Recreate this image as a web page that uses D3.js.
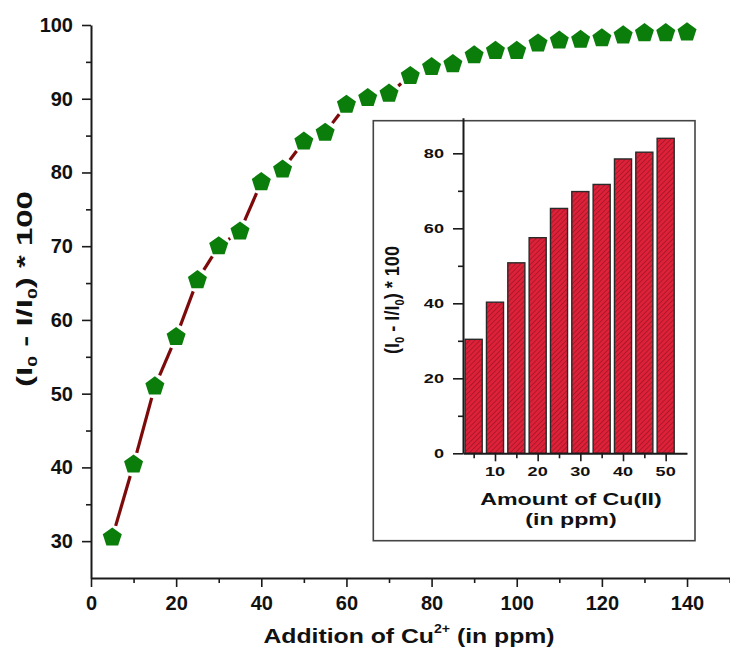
<!DOCTYPE html>
<html>
<head>
<meta charset="utf-8">
<script src="https://cdn.jsdelivr.net/npm/d3@7"></script>
<style>
  html, body { margin: 0; padding: 0; background: #fff; }
  svg { display: block; font-family: "Liberation Sans", Arial, sans-serif; font-weight: bold; }
</style>
</head>
<body>
<svg id="chart" width="730" height="652"></svg>
<script>
// Quenching efficiency vs. added Cu2+ (ppm)
const cuAdded = [5, 10, 15, 20, 25, 30, 35, 40, 45, 50, 55, 60, 65, 70,
                 75, 80, 85, 90, 95, 100, 105, 110, 115, 120, 125, 130, 135, 140];
const quench = [30.5, 40.4, 51.0, 57.7, 65.4, 70.0, 72.0, 78.7, 80.4, 84.2, 85.4, 89.2, 90.1, 90.7,
                93.1, 94.3, 94.7, 95.9, 96.5, 96.5, 97.5, 97.9, 98.0, 98.2, 98.6, 98.9, 98.9, 99.0];

// Inset: bar chart for the low-concentration range
const insetCu = [5, 10, 15, 20, 25, 30, 35, 40, 45, 50];
const insetQuench = [30.4, 40.3, 50.8, 57.5, 65.3, 69.8, 71.7, 78.5, 80.3, 84.0];

const mainXTicks = [0, 20, 40, 60, 80, 100, 120, 140];
const mainXMinor = [10, 30, 50, 70, 90, 110, 130, 150];
const mainYTicks = [30, 40, 50, 60, 70, 80, 90, 100];
const mainYMinor = [35, 45, 55, 65, 75, 85, 95];
const insetXTicks = [10, 20, 30, 40, 50];
const insetXMinor = [5, 15, 25, 35, 45];
const insetYTicks = [0, 20, 40, 60, 80];
const insetYMinor = [10, 30, 50, 70];

const svg = d3.select("#chart");

const defs = svg.append("defs");
const pat = defs.append("pattern")
  .attr("id", "hatch")
  .attr("patternUnits", "userSpaceOnUse")
  .attr("width", 3.6).attr("height", 3.6)
  .attr("patternTransform", "rotate(45)");
pat.append("rect").attr("width", 3.6).attr("height", 3.6).attr("fill", "#dc2139");
pat.append("line").attr("x1", 0).attr("y1", 0).attr("x2", 0).attr("y2", 3.6)
  .attr("stroke", "#8e1020").attr("stroke-width", 1.1);

// ---------- main plot ----------
const x = d3.scaleLinear().domain([0, 150]).range([91, 729.6]);
const y = d3.scaleLinear().domain([25, 100]).range([578, 25]);

function styleAxis(g, w) {
  g.select(".domain").attr("stroke", "#1a1a1a").attr("stroke-width", w);
  g.selectAll(".tick line").attr("stroke", "#1a1a1a").attr("stroke-width", 1.6);
}

// x axis
svg.append("g").attr("transform", `translate(0,${y(25)})`)
  .call(d3.axisBottom(x).tickValues(mainXTicks).tickSize(9).tickSizeOuter(0).tickPadding(9))
  .call(g => styleAxis(g, 2))
  .call(g => g.selectAll("text").attr("font-size", 20).attr("font-family", "Liberation Sans, Arial")
    .attr("font-weight", "bold").attr("fill", "#111"));
svg.append("g").attr("transform", `translate(0,${y(25)})`)
  .call(d3.axisBottom(x).tickValues(mainXMinor).tickSize(5).tickFormat(""))
  .call(g => g.select(".domain").remove())
  .call(g => g.selectAll(".tick line").attr("stroke", "#1a1a1a").attr("stroke-width", 1.6));

// y axis
svg.append("g").attr("transform", `translate(${x(0)},0)`)
  .call(d3.axisLeft(y).tickValues(mainYTicks).tickSize(9).tickSizeOuter(0).tickPadding(9))
  .call(g => styleAxis(g, 2))
  .call(g => g.selectAll("text").attr("font-size", 20).attr("font-family", "Liberation Sans, Arial")
    .attr("font-weight", "bold").attr("fill", "#111"));
svg.append("g").attr("transform", `translate(${x(0)},0)`)
  .call(d3.axisLeft(y).tickValues(mainYMinor).tickSize(5).tickFormat(""))
  .call(g => g.select(".domain").remove())
  .call(g => g.selectAll(".tick line").attr("stroke", "#1a1a1a").attr("stroke-width", 1.6));

// axis titles (set in a stretched face)
const yTitle = svg.append("text")
  .attr("transform", `translate(32,289) rotate(-90) scale(1.5,1)`)
  .attr("text-anchor", "middle")
  .attr("font-size", 22).attr("fill", "#111");
yTitle.append("tspan").text("(I");
yTitle.append("tspan").text("0").attr("font-size", 13).attr("dy", 5);
yTitle.append("tspan").text(" - I/I").attr("dy", -5);
yTitle.append("tspan").text("0").attr("font-size", 13).attr("dy", 5);
yTitle.append("tspan").text(") * 100").attr("dy", -5);

const xTitle = svg.append("text")
  .attr("transform", `translate(409,643) scale(1.18,1)`)
  .attr("text-anchor", "middle")
  .attr("font-size", 21).attr("fill", "#111");
xTitle.append("tspan").text("Addition of Cu");
xTitle.append("tspan").text("2+").attr("font-size", 12).attr("dy", -10);
xTitle.append("tspan").text(" (in ppm)").attr("dy", 10);

// connecting line, broken around each symbol
const gap = 12;
const pts = cuAdded.map((c, i) => ({ px: x(c), py: y(quench[i]) }));
const segs = [];
for (let i = 0; i < pts.length - 1; i++) {
  const a = pts[i], b = pts[i + 1];
  const dx = b.px - a.px, dy = b.py - a.py, len = Math.hypot(dx, dy);
  if (len > 2 * gap + 1) {
    const ux = dx / len, uy = dy / len;
    segs.push([a.px + ux * gap, a.py + uy * gap, b.px - ux * gap, b.py - uy * gap]);
  }
}
svg.append("g").selectAll("line").data(segs).join("line")
  .attr("x1", d => d[0]).attr("y1", d => d[1]).attr("x2", d => d[2]).attr("y2", d => d[3])
  .attr("stroke", "#7d0a0a").attr("stroke-width", 3.2);

// pentagon symbols
function pentagon(r) {
  const p = d3.path();
  for (let k = 0; k < 5; k++) {
    const ang = -Math.PI / 2 + k * 2 * Math.PI / 5;
    const px = r * Math.cos(ang), py = r * Math.sin(ang);
    if (k === 0) p.moveTo(px, py); else p.lineTo(px, py);
  }
  p.closePath();
  return p.toString();
}
svg.append("g").selectAll("path").data(cuAdded).join("path")
  .attr("d", pentagon(10))
  .attr("transform", (c, i) => `translate(${x(c)},${y(quench[i])})`)
  .attr("fill", "#0a7d0a");

// ---------- inset ----------
svg.append("rect")
  .attr("x", 373.3).attr("y", 120.7).attr("width", 321.7).attr("height", 420)
  .attr("fill", "#fff").attr("stroke", "#444").attr("stroke-width", 1.6);

const ix = d3.scaleLinear().domain([2.5, 55]).range([463, 687]);
const iy = d3.scaleLinear().domain([0, 89.5]).range([453.3, 117.7]);
const stretch = 1.45;

svg.append("g").selectAll("rect").data(insetCu).join("rect")
  .attr("x", c => ix(c - 2))
  .attr("width", c => ix(c + 2) - ix(c - 2))
  .attr("y", (c, i) => iy(insetQuench[i]))
  .attr("height", (c, i) => iy(0) - iy(insetQuench[i]))
  .attr("fill", "url(#hatch)")
  .attr("stroke", "#2a2a2a").attr("stroke-width", 1.4);

// inset x axis
svg.append("g").attr("transform", `translate(0,${iy(0)})`)
  .call(d3.axisBottom(ix).tickValues(insetXTicks).tickSize(8).tickSizeOuter(0).tickFormat(""))
  .call(g => styleAxis(g, 2));
svg.append("g").attr("transform", `translate(0,${iy(0)})`)
  .call(d3.axisBottom(ix).tickValues(insetXMinor).tickSize(5).tickFormat(""))
  .call(g => g.select(".domain").remove())
  .call(g => g.selectAll(".tick line").attr("stroke", "#1a1a1a").attr("stroke-width", 1.6));
svg.append("g").selectAll("text").data(insetXTicks).join("text")
  .attr("transform", d => `translate(${ix(d)},${iy(0) + 23}) scale(${stretch},1)`)
  .attr("text-anchor", "middle").attr("font-size", 12.5).attr("fill", "#111")
  .text(d => d);

// inset y axis
svg.append("g").attr("transform", `translate(${ix(2.5)},0)`)
  .call(d3.axisLeft(iy).tickValues(insetYTicks).tickSize(10).tickSizeOuter(0).tickFormat(""))
  .call(g => styleAxis(g, 2));
svg.append("g").attr("transform", `translate(${ix(2.5)},0)`)
  .call(d3.axisLeft(iy).tickValues(insetYMinor).tickSize(5).tickFormat(""))
  .call(g => g.select(".domain").remove())
  .call(g => g.selectAll(".tick line").attr("stroke", "#1a1a1a").attr("stroke-width", 1.6));
svg.append("g").selectAll("text").data(insetYTicks).join("text")
  .attr("transform", d => `translate(${ix(2.5) - 19},${iy(d) + 4.5}) scale(${stretch},1)`)
  .attr("text-anchor", "end").attr("font-size", 12.5).attr("fill", "#111")
  .text(d => d);

// inset titles
const iyTitle = svg.append("text")
  .attr("transform", `translate(399,300) scale(1.35,1) rotate(-90) scale(1.17,1)`)
  .attr("text-anchor", "middle").attr("font-size", 15.5).attr("fill", "#111");
iyTitle.append("tspan").text("(I");
iyTitle.append("tspan").text("0").attr("font-size", 9.5).attr("dy", 3.5);
iyTitle.append("tspan").text(" - I/I").attr("dy", -3.5);
iyTitle.append("tspan").text("0").attr("font-size", 9.5).attr("dy", 3.5);
iyTitle.append("tspan").text(") * 100").attr("dy", -3.5);

svg.append("text")
  .attr("transform", `translate(571,505) scale(${stretch},1)`)
  .attr("text-anchor", "middle").attr("font-size", 16).attr("fill", "#111")
  .text("Amount of Cu(II)");
svg.append("text")
  .attr("transform", `translate(571,525) scale(${stretch},1)`)
  .attr("text-anchor", "middle").attr("font-size", 16).attr("fill", "#111")
  .text("(in ppm)");
</script>
</body>
</html>
